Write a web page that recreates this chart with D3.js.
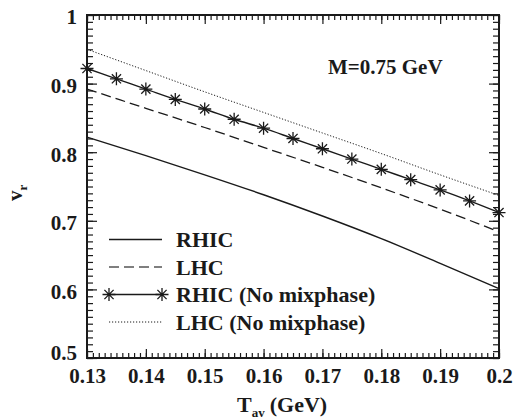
<!DOCTYPE html>
<html>
<head>
<meta charset="utf-8">
<script src="https://cdn.jsdelivr.net/npm/d3@7"></script>
<style>
  html, body { margin: 0; padding: 0; background: #fff; }
  svg { display: block; }
  text { font-family: "Liberation Serif", "Times New Roman", serif; font-weight: bold; fill: #1a1a1a; }
</style>
</head>
<body>
<svg id="chart" width="513" height="420"></svg>
<script>
// Temperature grid (GeV) for the curves
const tGrid = [0.13, 0.14, 0.15, 0.16, 0.17, 0.18, 0.19, 0.20];
const rhic = [0.822, 0.795, 0.767, 0.738, 0.707, 0.674, 0.638, 0.601];
const lhc = [0.892, 0.864, 0.836, 0.807, 0.778, 0.748, 0.717, 0.684];
const lhcNoMix = [0.950, 0.919, 0.888, 0.858, 0.828, 0.798, 0.767, 0.737];

// RHIC without mixed phase, sampled every 0.005 GeV (star markers)
const tStar = [0.130, 0.135, 0.140, 0.145, 0.150, 0.155, 0.160, 0.165,
               0.170, 0.175, 0.180, 0.185, 0.190, 0.195, 0.200];
const rhicNoMix = [0.922, 0.907, 0.892, 0.877, 0.863, 0.848, 0.835, 0.820,
                   0.805, 0.790, 0.775, 0.760, 0.745, 0.729, 0.712];

const xTicks = [0.13, 0.14, 0.15, 0.16, 0.17, 0.18, 0.19, 0.2];
const yTicks = [0.5, 0.6, 0.7, 0.8, 0.9, 1];
const legendLabels = ["RHIC", "LHC", "RHIC (No mixphase)", "LHC (No mixphase)"];
const annotation = "M=0.75 GeV";

const svg = d3.select("#chart");
const pLeft = 87, pRight = 499, pTop = 15, pBottom = 358;

const x = d3.scaleLinear().domain([0.13, 0.2]).range([pLeft, pRight]);
const y = d3.scaleLinear().domain([0.5, 1]).range([pBottom, pTop]);

const minorX = d3.range(130, 201).map(d => d / 1000);
const minorY = d3.range(50, 101).map(d => d / 100);

function styleAxis(g) {
  g.select(".domain").remove();
  g.selectAll("line").attr("stroke", "#1a1a1a").attr("stroke-width", 1.2);
  g.selectAll("text")
    .attr("font-family", '"Liberation Serif", "Times New Roman", serif')
    .attr("font-weight", "bold")
    .attr("font-size", 21)
    .attr("fill", "#1a1a1a");
  g.attr("font-family", null).attr("font-size", null);
}

// minor ticks, all four sides, pointing inward
svg.append("g").attr("transform", `translate(0,${pBottom})`)
  .call(d3.axisBottom(x).tickValues(minorX).tickSizeInner(-5).tickSizeOuter(0).tickFormat(""))
  .call(styleAxis);
svg.append("g").attr("transform", `translate(0,${pTop})`)
  .call(d3.axisTop(x).tickValues(minorX).tickSizeInner(-5).tickSizeOuter(0).tickFormat(""))
  .call(styleAxis);
svg.append("g").attr("transform", `translate(${pLeft},0)`)
  .call(d3.axisLeft(y).tickValues(minorY).tickSizeInner(-6).tickSizeOuter(0).tickFormat(""))
  .call(styleAxis);
svg.append("g").attr("transform", `translate(${pRight},0)`)
  .call(d3.axisRight(y).tickValues(minorY).tickSizeInner(-6).tickSizeOuter(0).tickFormat(""))
  .call(styleAxis);

// major ticks with labels
svg.append("g").attr("transform", `translate(0,${pBottom})`)
  .call(d3.axisBottom(x).tickValues(xTicks).tickSizeInner(-9).tickSizeOuter(0).tickPadding(10)
    .tickFormat(d => d === 0.2 ? "0.2" : d3.format(".2f")(d)))
  .call(styleAxis);
svg.append("g").attr("transform", `translate(0,${pTop})`)
  .call(d3.axisTop(x).tickValues(xTicks).tickSizeInner(-9).tickSizeOuter(0).tickFormat(""))
  .call(styleAxis);
svg.append("g").attr("transform", `translate(${pLeft},0)`)
  .call(d3.axisLeft(y).tickValues(yTicks).tickSizeInner(-10).tickSizeOuter(0).tickPadding(10)
    .tickFormat(d => d === 1 ? "1" : d3.format(".1f")(d)))
  .call(styleAxis)
  // bottom label sits a little higher so it clears the x labels
  .call(g => g.selectAll("text").attr("dy", d => d === 0.5 ? "0.08em" : "0.42em"));
svg.append("g").attr("transform", `translate(${pRight},0)`)
  .call(d3.axisRight(y).tickValues(yTicks).tickSizeInner(-10).tickSizeOuter(0).tickFormat(""))
  .call(styleAxis);

// frame
svg.append("rect")
  .attr("x", pLeft).attr("y", pTop)
  .attr("width", pRight - pLeft).attr("height", pBottom - pTop)
  .attr("fill", "none").attr("stroke", "#1a1a1a").attr("stroke-width", 2);

// curves
const line = d3.line().x(d => x(d[0])).y(d => y(d[1])).curve(d3.curveMonotoneX);
const plot = svg.append("g");

const styles = [
  { dash: null, width: 1.4 },
  { dash: "10,5", width: 1.3 },
  { dash: null, width: 1.4 },
  { dash: "1.2,1.8", width: 1 }
];

plot.append("path").datum(d3.zip(tGrid, rhic))
  .attr("d", line).attr("fill", "none").attr("stroke", "#1a1a1a").attr("stroke-width", styles[0].width);
plot.append("path").datum(d3.zip(tGrid, lhc))
  .attr("d", line).attr("fill", "none").attr("stroke", "#1a1a1a").attr("stroke-width", styles[1].width)
  .attr("stroke-dasharray", styles[1].dash);
plot.append("path").datum(d3.zip(tStar, rhicNoMix))
  .attr("d", line).attr("fill", "none").attr("stroke", "#1a1a1a").attr("stroke-width", styles[2].width);
plot.append("path").datum(d3.zip(tGrid, lhcNoMix))
  .attr("d", line).attr("fill", "none").attr("stroke", "#1a1a1a").attr("stroke-width", styles[3].width)
  .attr("stroke-dasharray", styles[3].dash);

// asterisk marker
function star(r) {
  const a = r * Math.SQRT1_2;
  return `M0,${-r}V${r}M${-r},0H${r}M${-a},${-a}L${a},${a}M${-a},${a}L${a},${-a}`;
}
plot.selectAll(".star").data(d3.zip(tStar, rhicNoMix)).join("path")
  .attr("class", "star")
  .attr("transform", d => `translate(${x(d[0])},${y(d[1])})`)
  .attr("d", star(6.5))
  .attr("fill", "none").attr("stroke", "#1a1a1a").attr("stroke-width", 1.3);

// legend
const legend = svg.append("g");
const lx0 = 109, lx1 = 162, ly0 = 239.5, lstep = 27.5;
legendLabels.forEach((lab, i) => {
  const yy = ly0 + i * lstep;
  legend.append("line")
    .attr("x1", lx0).attr("x2", lx1).attr("y1", yy).attr("y2", yy)
    .attr("stroke", i === 1 ? "#555" : "#1a1a1a")
    .attr("stroke-width", styles[i].width)
    .attr("stroke-dasharray", styles[i].dash);
  if (i === 2) {
    [lx0, lx1].forEach(px => legend.append("path")
      .attr("transform", `translate(${px},${yy})`)
      .attr("d", star(6.5)).attr("fill", "none")
      .attr("stroke", "#1a1a1a").attr("stroke-width", 1.3));
  }
  legend.append("text").attr("x", 176).attr("y", yy + 7.5)
    .attr("font-size", 22).text(lab);
});

// annotation
svg.append("text").attr("x", 328).attr("y", 74).attr("font-size", 21).text(annotation);

// x-axis title: T_av (GeV)
const xt = svg.append("text").attr("x", 237).attr("y", 412).attr("font-size", 22);
xt.append("tspan").text("T");
xt.append("tspan").attr("font-size", 13).attr("dy", 5).text("av");
xt.append("tspan").attr("dy", -5).attr("dx", 5).text("(GeV)");

// y-axis title: v_r
const yt = svg.append("text")
  .attr("transform", "translate(22,201) rotate(-90)")
  .attr("font-size", 21);
yt.append("tspan").text("v");
yt.append("tspan").attr("font-size", 13).attr("dy", 5).text("r");
</script>
</body>
</html>
